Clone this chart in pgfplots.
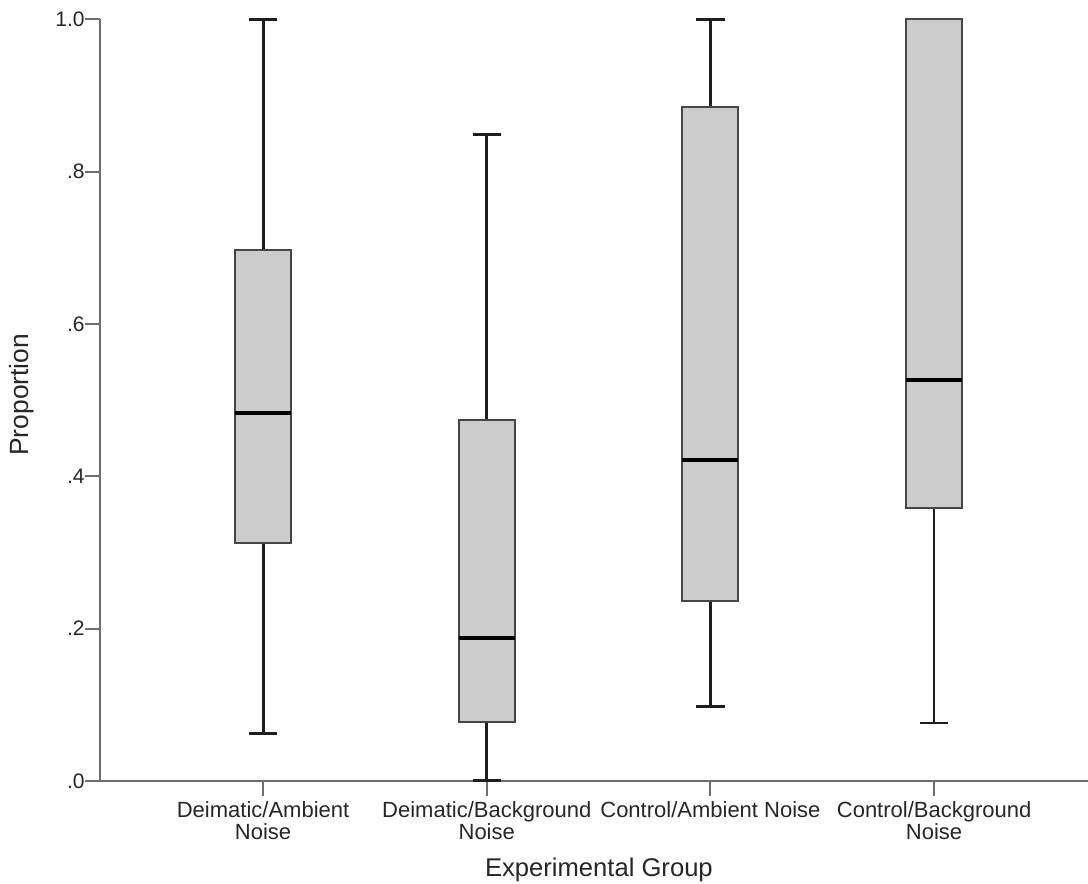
\documentclass[border=0pt]{standalone}
\usepackage{pgfplots}
\pgfplotsset{compat=1.18}
\usepgfplotslibrary{statistics}
\usepackage{fontspec}
\setmainfont{Liberation Sans}
\definecolor{boxfill}{RGB}{204,204,204}
\definecolor{axisgray}{RGB}{110,110,110}
\definecolor{boxedge}{RGB}{70,70,70}
\definecolor{whisk}{RGB}{30,30,30}
\begin{document}
\begin{tikzpicture}
\useasboundingbox (-50pt,-51.5pt) rectangle (494pt,390.5pt);
\begin{axis}[
  scale only axis, width=494pt, height=380.85pt,
  xmin=0.271, xmax=4.688, ymin=0, ymax=1,
  axis x line*=bottom, axis y line*=left,
  axis line style={-, draw=axisgray, line width=1pt},
  tick style={draw=axisgray, line width=1pt},
  tick align=outside, major tick length=7.5pt,
  xtick={1,2,3,4},
  xticklabels={{Deimatic/Ambient\\Noise},{Deimatic/Background\\Noise},{Control/Ambient Noise},{Control/Background\\Noise}},
  xticklabel style={align=center, font=\fontsize{11}{11}\selectfont, text=black!85, inner sep=0pt, yshift=-2.5pt},
  ytick={0,0.2,0.4,0.6,0.8,1},
  yticklabels={.0,.2,.4,.6,.8,1.0},
  yticklabel style={font=\fontsize{10.5}{12}\selectfont, text=black!85, inner sep=0pt},
  /pgf/number format/assume math mode=true,
  xlabel={Experimental Group}, ylabel={Proportion},
  xlabel style={at={(axis description cs:0.505,0)}, anchor=center, yshift=-44.5pt, font=\fontsize{12.8}{14}\selectfont, text=black!85},
  ylabel style={at={(axis description cs:-0.079,0.507)}, anchor=center, font=\fontsize{13.2}{14}\selectfont, text=black!85},
  clip=false,
  boxplot/draw direction=y,
  boxplot/every box/.style={draw=boxedge, line width=1pt, fill=boxfill},
  boxplot/every whisker/.style={draw=whisk, line width=1.5pt},
  boxplot/every median/.style={draw=black, line width=2pt},
]
\addplot[solid, boxplot prepared={draw position=1, lower whisker=0.063, lower quartile=0.312, median=0.483, upper quartile=0.697, upper whisker=1.0, box extend=0.25, whisker extend=0.127}] coordinates {};
\addplot[solid, boxplot prepared={draw position=2, lower whisker=0.0, lower quartile=0.077, median=0.188, upper quartile=0.474, upper whisker=0.849, box extend=0.25, whisker extend=0.127}] coordinates {};
\addplot[solid, boxplot prepared={draw position=3, lower whisker=0.098, lower quartile=0.236, median=0.421, upper quartile=0.885, upper whisker=1.0, box extend=0.25, whisker extend=0.127}] coordinates {};
\addplot[solid, boxplot/every whisker/.style={draw=whisk, line width=0.9pt}, boxplot prepared={draw position=4, lower whisker=0.076, lower quartile=0.358, median=0.526, upper quartile=1.0, upper whisker=1.0, box extend=0.25, whisker extend=0.127}] coordinates {};
\end{axis}
\end{tikzpicture}
\end{document}
